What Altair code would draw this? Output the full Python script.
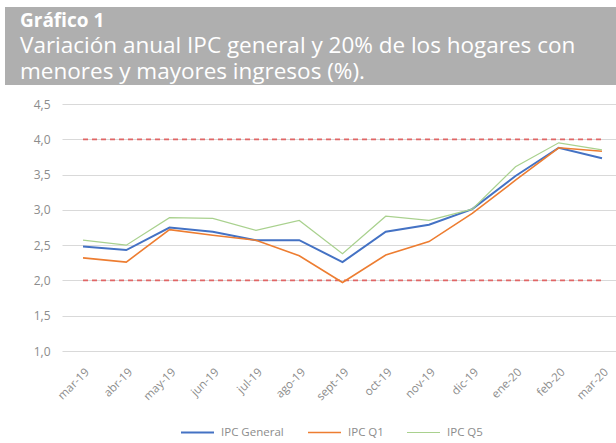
import altair as alt
import pandas as pd

months = ["mar-19", "abr-19", "may-19", "jun-19", "jul-19", "ago-19", "sept-19",
          "oct-19", "nov-19", "dic-19", "ene-20", "feb-20", "mar-20"]
ipc_general = [2.48, 2.43, 2.75, 2.69, 2.57, 2.57, 2.26, 2.69, 2.79, 3.01, 3.48, 3.88, 3.73]
ipc_q1 = [2.32, 2.26, 2.72, 2.64, 2.57, 2.35, 1.97, 2.36, 2.55, 2.95, 3.42, 3.88, 3.83]
ipc_q5 = [2.57, 2.50, 2.89, 2.88, 2.71, 2.85, 2.38, 2.91, 2.85, 3.01, 3.61, 3.95, 3.85]
series_names = ["IPC General", "IPC Q1", "IPC Q5"]
series_colors = ["#4472C4", "#ED7D31", "#A9D18E"]
series_widths = [2.0, 1.2, 1.2]
target_band = [2.0, 4.0]
y_ticks = [1.0, 1.5, 2.0, 2.5, 3.0, 3.5, 4.0, 4.5]
title_lines = ["Gráfico 1",
               "Variación anual IPC general y 20% de los hogares con",
               "menores y mayores ingresos (%)."]

rows = []
for name, vals in zip(series_names, [ipc_general, ipc_q1, ipc_q5]):
    for m, v in zip(months, vals):
        rows.append({"mes": m, "serie": name, "valor": v})
df = pd.DataFrame(rows)

ref_rows = [{"mes": m, "nivel": t} for t in target_band for m in months]
ref_df = pd.DataFrame(ref_rows)

W, H = 554, 247
FONT = "Open Sans"

x_scale = alt.Scale(type="point", domain=months, padding=0.405, align=0.6)
y_scale = alt.Scale(domain=[1.0, 4.5], nice=False, zero=False)

x_axis = alt.Axis(title=None, labelAngle=-45, ticks=False, domain=False, grid=False,
                  labelColor="#8c8c8c", labelFontSize=11.5, labelPadding=15, labelFont=FONT)
y_axis = alt.Axis(title=None, values=y_ticks,
                  labelExpr="replace(format(datum.value, '.1f'), '.', ',')",
                  labelOverlap=False,
                  ticks=False, domain=False, grid=True, gridColor="#d9d9d9", gridWidth=1,
                  labelColor="#8c8c8c", labelFontSize=12, labelPadding=12, labelFont=FONT)

refs = alt.Chart(ref_df).mark_line(color="#E06666", strokeDash=[5, 4], strokeWidth=1.8).encode(
    x=alt.X("mes:N", scale=x_scale, sort=months, axis=x_axis),
    y=alt.Y("nivel:Q", scale=y_scale, axis=y_axis),
    detail="nivel:N",
)

lines = alt.Chart(df).mark_line().encode(
    x=alt.X("mes:N", scale=x_scale, sort=months, axis=x_axis),
    y=alt.Y("valor:Q", scale=y_scale, axis=y_axis),
    color=alt.Color("serie:N", scale=alt.Scale(domain=series_names, range=series_colors),
                    legend=alt.Legend(title=None, orient="none", direction="horizontal",
                                      legendX=118, legendY=311, symbolType="stroke",
                                      symbolSize=1089, symbolStrokeWidth=2,
                                      labelColor="#8c8c8c", labelFontSize=11.5, labelFont=FONT,
                                      labelOffset=6, columnPadding=20)),
    strokeWidth=alt.StrokeWidth("serie:N", scale=alt.Scale(domain=series_names, range=series_widths),
                                legend=None),
)

box_df = pd.DataFrame({"k": [0]})
box = alt.Chart(box_df).mark_rect(color="#afafaf").encode(
    x=alt.value(-57), x2=alt.value(W + 10), y=alt.value(-97), y2=alt.value(-19)
)
t1 = alt.Chart(pd.DataFrame({"t": [title_lines[0]]})).mark_text(
    align="left", baseline="alphabetic", color="white", font=FONT, fontSize=19, fontWeight="bold"
).encode(text="t:N", x=alt.value(-42), y=alt.value(-77))
t2 = alt.Chart(pd.DataFrame({"t": [title_lines[1]]})).mark_text(
    align="left", baseline="alphabetic", color="white", font=FONT, fontSize=22.5
).encode(text="t:N", x=alt.value(-42), y=alt.value(-51))
t3 = alt.Chart(pd.DataFrame({"t": [title_lines[2]]})).mark_text(
    align="left", baseline="alphabetic", color="white", font=FONT, fontSize=22.5
).encode(text="t:N", x=alt.value(-42), y=alt.value(-25))

chart = alt.layer(box, t1, t2, t3, refs, lines).properties(
    width=W, height=H,
    autosize=alt.AutoSizeParams(type="none"),
    padding={"left": 62, "top": 104, "right": 0, "bottom": 92},
    background="white",
).configure_view(stroke=None)

chart.save("out.html", embed_options={"renderer": "svg", "actions": False})
